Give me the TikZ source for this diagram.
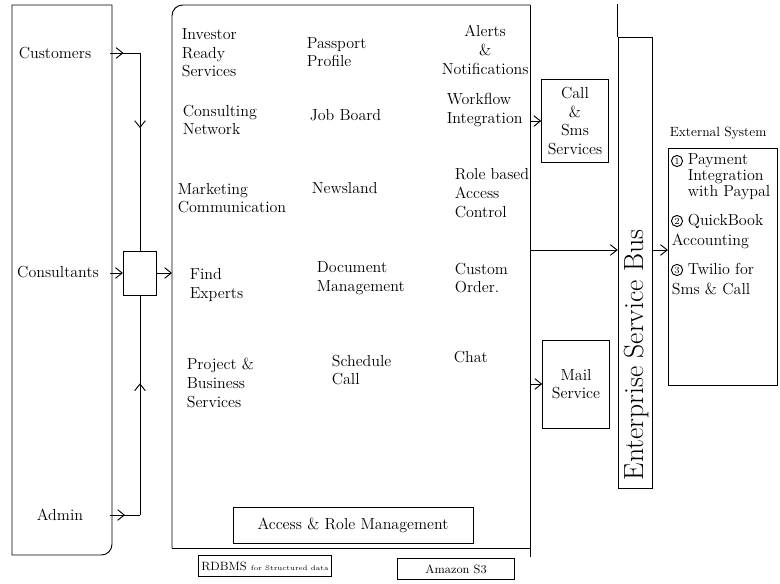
\documentclass[tikz,border=0pt]{standalone}
\usepackage{tikz}
\usetikzlibrary{arrows.meta, decorations.markings, positioning}

\begin{document}
\begin{tikzpicture}[x=0.75pt,y=-0.75pt,line width=0.7pt,>={Straight Barb[length=5pt,width=8pt]}]

% Stili per testi e riquadri
\tikzset{
  txt/.style={align=left, inner sep=1pt, font=\large},
  ctxt/.style={align=center, inner sep=1pt, font=\large},
  boxed/.style={draw, align=center, inner sep=2pt},
  num/.style={draw, circle, inner sep=0.8pt, font=\scriptsize},
  midarrow/.style={postaction={decorate},
    decoration={markings, mark=at position #1 with {\arrow{>}}}}
}

\useasboundingbox (0,0) rectangle (780,584);

% --- Utenti a sinistra ---
\draw (112,300) -- (112,5) -- (12,5) -- (12,555) -- (60,555) [rounded corners=8pt] -- (112,555) -- cycle;
\coordinate (usersR) at (110,0);

\node[txt] (cust) at (55,53) {Customers};
\node[txt] (cons) at (58,272) {Consultants};
\node[txt] (admin) at (60,515) {Admin};

% Riquadro di smistamento
\node[draw, minimum width=25pt, minimum height=33pt] (hub) at (140,273) {};

% --- Pannello centrale ---
\draw[rounded corners=8pt] (172,548) -- (172,5) -- (530,5);
\draw (530,5) -- (530,557);
\draw (172,548) -- (530,548);
\coordinate (mainL) at (172,0);
\coordinate (mainR) at (530,0);

\node[txt, anchor=west] (inv) at (180,53) {Investor\\Ready\\Services};
\node[txt, anchor=west] (pass) at (305,52) {Passport\\Profile};
\node[ctxt, anchor=west] (alerts) at (440,50) {Alerts\\\&\\Notifications};

\node[txt, anchor=west] (consnet) at (181,120) {Consulting\\Network};
\node[txt, anchor=west] (job) at (308,115) {Job Board};
\node[txt, anchor=west] (work) at (445,110) {Workflow\\Integration};

\node[txt, anchor=west] (mark) at (176,198) {Marketing\\Communication};
\node[txt, anchor=west] (news) at (310,188) {Newsland};
\node[txt, anchor=west] (role) at (453,193) {Role based\\Access\\Control};

\node[txt, anchor=west] (find) at (188,285) {Find\\Experts};
\node[txt, anchor=west] (doc) at (315,278) {Document\\Management};
\node[txt, anchor=west] (order) at (453,278) {Custom\\Order.};

\node[txt, anchor=west] (proj) at (185,383) {Project \&\\Business\\Services};
\node[txt, anchor=west] (sched) at (330,370) {Schedule\\Call};
\node[txt, anchor=west] (chat) at (452,357) {Chat};

\node[boxed, font=\large, minimum width=180pt, minimum height=27pt] (access) at (353,525) {Access \& Role Management};

% Archivi
\node[boxed, font=\small, minimum width=90pt, minimum height=16pt] (rdbms) at (265,566) {RDBMS {\tiny for Structured data}};
\node[boxed, font=\small, minimum width=88pt, minimum height=16pt] (s3) at (456,569) {Amazon S3};

% --- Servizi e bus ---
\node[boxed, font=\large, minimum width=50pt, minimum height=62pt] (call) at (575,121) {Call\\\&\\Sms\\Services};
\node[boxed, font=\large, minimum width=50pt, minimum height=66pt] (mail) at (576,384) {Mail\\Service};

\node[draw, minimum width=26pt, minimum height=338pt] (esb) at (635.5,263) {};
\node[font=\huge, rotate=90] (esbtxt) at (637,355) {Enterprise Service Bus};
\draw (esb.north west) -- ++(0,-33);

% Sistemi esterni
\node[draw, minimum width=82pt, minimum height=178pt] (ext) at (723,267) {};
\node[txt, font=\normalsize, anchor=west] (exttitle) at (668,133) {External System};
\node[num] (n1) at (677,161) {1};
\node[txt, anchor=north west] (pay) at (686,152) {Payment\\[-2pt]Integration\\[-2pt]with Paypal};
\node[num] (n2) at (677,221) {2};
\node[txt, anchor=north west] (qb) at (686,212) {QuickBook};
\node[txt, anchor=north west] (acc) at (670,232) {Accounting};
\node[num] (n3) at (677,270) {3};
\node[txt, anchor=north west] (tw) at (686,261) {Twilio for};
\node[txt, anchor=north west] (sms) at (670,281) {Sms \& Call};

\coordinate (lvl) at (0,250);

% Frecce a sinistra
\draw[midarrow=0.45] (cust -| usersR) -- (cust -| hub);
\draw[midarrow=0.38] (cust -| hub) -- (hub.north);
\draw[->] (hub.west -| usersR) -- (hub.west);
\draw[->] (hub.east) -- (hub.east -| mainL);
\draw[midarrow=0.5] (admin -| usersR) -- (admin -| hub);
\draw[midarrow=0.6] (admin -| hub) -- (hub.south);

% Frecce a destra
\draw[->] (call.west -| mainR) -- (call.west);
\draw[->] (mail.west -| mainR) -- (mail.west);
\draw[->] (lvl -| mainR) -- (lvl -| esb.west);
\draw[->] (lvl -| esb.east) -- (lvl -| ext.west);

\end{tikzpicture}
\end{document}
